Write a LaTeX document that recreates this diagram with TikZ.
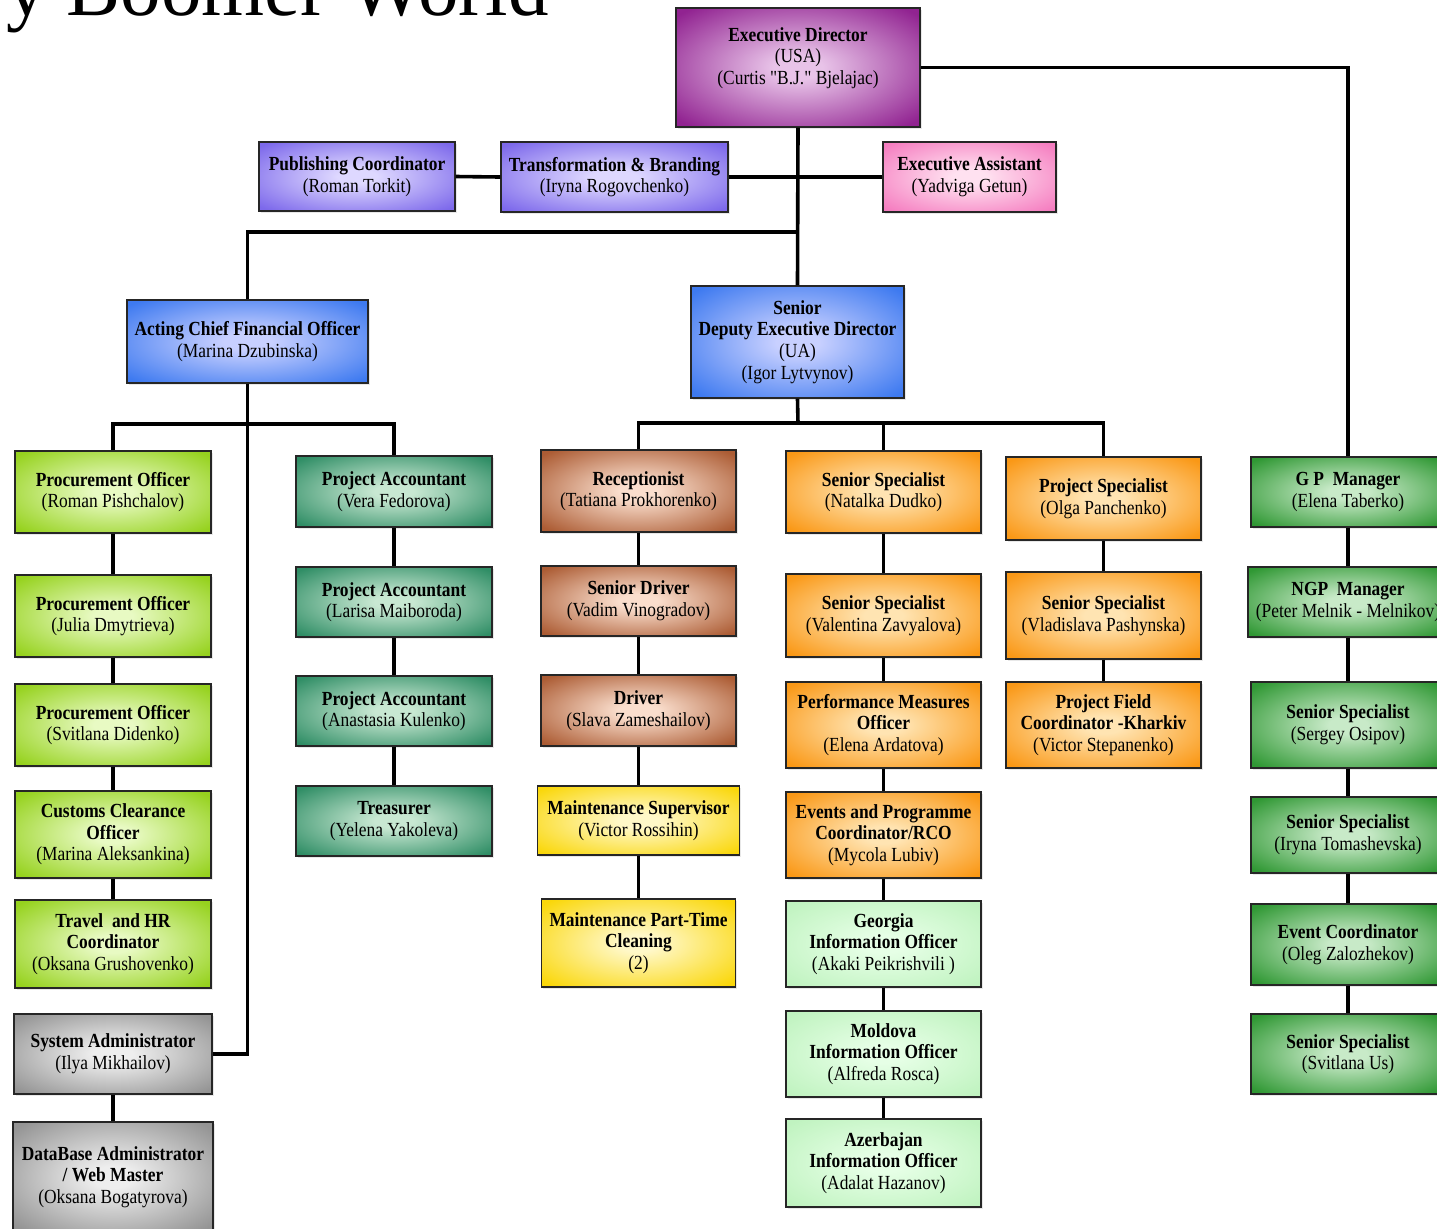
\documentclass[tikz,border=0pt]{standalone}
\usepackage{fontspec}
\setmainfont{Liberation Serif}[FakeStretch=0.87, Ligatures=TeXOff]
\newfontfamily\titlefont{Liberation Serif}
\usetikzlibrary{shadows}
\definecolor{gin}{RGB}{255,255,255}
\definecolor{gout}{RGB}{128,128,128}
\pgfdeclareradialshading[gin,gout]{glow}{\pgfpoint{0bp}{0bp}}{color(0bp)=(gin); color(5bp)=(gin); color(33bp)=(gout); color(50bp)=(gout)}
\definecolor{purpO}{RGB}{145,35,145}\definecolor{purpI}{RGB}{232,195,232}
\definecolor{periO}{RGB}{125,105,235}\definecolor{periI}{RGB}{222,216,255}
\definecolor{pinkO}{RGB}{245,125,192}\definecolor{pinkI}{RGB}{255,225,240}
\definecolor{blueO}{RGB}{62,122,240}\definecolor{blueI}{RGB}{200,208,255}
\definecolor{limeO}{RGB}{150,210,30}\definecolor{limeI}{RGB}{232,250,195}
\definecolor{tealO}{RGB}{48,142,102}\definecolor{tealI}{RGB}{200,232,210}
\definecolor{brownO}{RGB}{172,92,52}\definecolor{brownI}{RGB}{250,222,205}
\definecolor{yellO}{RGB}{250,215,10}\definecolor{yellI}{RGB}{255,248,200}
\definecolor{orngO}{RGB}{250,152,22}\definecolor{orngI}{RGB}{255,228,178}
\definecolor{mintO}{RGB}{192,243,192}\definecolor{mintI}{RGB}{230,255,230}
\definecolor{grayO}{RGB}{148,148,148}\definecolor{grayI}{RGB}{238,238,238}
\definecolor{grnO}{RGB}{48,152,52}\definecolor{grnI}{RGB}{200,234,200}
\tikzset{
  glowcols/.code 2 args={\colorlet{gin}{#1}\colorlet{gout}{#2}},
  sz/.style 2 args={minimum width=#1*0.5pt, minimum height=#2*0.5pt},
  box/.style={draw=black!85, line width=0.7pt, shading=glow, inner sep=0pt,
    align=center, font=\fontsize{10}{10.8}\selectfont,
    drop shadow={shadow xshift=0.8pt, shadow yshift=-0.8pt, opacity=0.18}},
  purp/.style={box, glowcols={purpI}{purpO}},
  peri/.style={box, glowcols={periI}{periO}},
  pinkb/.style={box, glowcols={pinkI}{pinkO}},
  blueb/.style={box, glowcols={blueI}{blueO}},
  lime/.style={box, glowcols={limeI}{limeO}},
  teal/.style={box, glowcols={tealI}{tealO}},
  brown/.style={box, glowcols={brownI}{brownO}},
  yell/.style={box, glowcols={yellI}{yellO}},
  orng/.style={box, glowcols={orngI}{orngO}},
  mint/.style={box, glowcols={mintI}{mintO}},
  grayb/.style={box, glowcols={grayI}{grayO}},
  grn/.style={box, glowcols={grnI}{grnO}},
  link/.style={line width=1.8pt, black}
}
\begin{document}
\begin{tikzpicture}[x=0.5pt,y=-0.5pt]
\useasboundingbox (0,0) rectangle (1437,1228);
\clip (0,0) rectangle (1437,1228);
\fill[white] (0,0) rectangle (1437,1228);
\node[anchor=base east, inner sep=0pt, font=\titlefont\fontsize{40.5}{42}\selectfont] (title) at (549,15) {y Boomer World};

% top level
\node[purp, sz={244}{119}] (ed) at (798,67.5) {\textbf{Executive Director}\\(USA)\\(Curtis "B.J." Bjelajac)\rule[-11.5pt]{0pt}{0pt}};
\node[peri, sz={196}{69}] (pub) at (357,176.5) {\textbf{Publishing Coordinator}\\(Roman Torkit)};
\node[peri, sz={227}{70}] (tb) at (614.5,177) {\textbf{Transformation \& Branding}\\(Iryna Rogovchenko)};
\node[pinkb, sz={173}{70}] (ea) at (969.5,177) {\textbf{Executive Assistant}\\(Yadviga Getun)};
\node[blueb, sz={241}{83}] (cfo) at (247.5,341.5) {\textbf{Acting Chief Financial Officer}\\(Marina Dzubinska)};
\node[blueb, sz={213}{112}] (sded) at (797.5,342) {\textbf{Senior}\\\textbf{Deputy Executive Director}\\(UA)\\(Igor Lytvynov)};

% left column
\node[lime, sz={196}{82}] (pr1) at (113,492) {\textbf{Procurement Officer}\\(Roman Pishchalov)};
\node[lime, sz={196}{82}] (pr2) at (113,616) {\textbf{Procurement Officer}\\(Julia Dmytrieva)};
\node[lime, sz={196}{82}] (pr3) at (113,725) {\textbf{Procurement Officer}\\(Svitlana Didenko)};
\node[lime, sz={196}{87}] (cc) at (113,834.5) {\textbf{Customs Clearance}\\\textbf{Officer}\\(Marina Aleksankina)};
\node[lime, sz={196}{88}] (th) at (113,944) {\textbf{Travel\ \ and HR}\\\textbf{Coordinator}\\(Oksana Grushovenko)};
\node[grayb, sz={198}{80}] (sa) at (113,1054) {\textbf{System Administrator}\\(Ilya Mikhailov)};
\node[grayb, sz={200}{110}] (db) at (113,1177) {\textbf{DataBase Administrator}\\\textbf{/ Web Master}\\(Oksana Bogatyrova)};

% accountants
\node[teal, sz={196}{71}] (pa1) at (394,491.5) {\textbf{Project Accountant}\\(Vera Fedorova)};
\node[teal, sz={196}{70}] (pa2) at (394,602) {\textbf{Project Accountant}\\(Larisa Maiboroda)};
\node[teal, sz={196}{70}] (pa3) at (394,711) {\textbf{Project Accountant}\\(Anastasia Kulenko)};
\node[teal, sz={196}{70}] (tr) at (394,821) {\textbf{Treasurer}\\(Yelena Yakoleva)};

% reception column
\node[brown, sz={195}{82}] (rec) at (638.5,491) {\textbf{Receptionist}\\(Tatiana Prokhorenko)};
\node[brown, sz={195}{70}] (sd) at (638.5,601) {\textbf{Senior Driver}\\(Vadim Vinogradov)};
\node[brown, sz={195}{71}] (dr) at (638.5,710.5) {\textbf{Driver}\\(Slava Zameshailov)};
\node[yell, sz={202}{69}] (ms) at (638.5,820.5) {\textbf{Maintenance Supervisor}\\(Victor Rossihin)};
\node[yell, sz={194}{88}] (mp) at (638.5,943) {\textbf{Maintenance Part-Time}\\\textbf{Cleaning}\\(2)};

% specialists column
\node[orng, sz={195}{82}] (ss1) at (883.5,492) {\textbf{Senior Specialist}\\(Natalka Dudko)};
\node[orng, sz={195}{83}] (ss2) at (883.5,615.5) {\textbf{Senior Specialist}\\(Valentina Zavyalova)};
\node[orng, sz={195}{86}] (pm) at (883.5,725) {\textbf{Performance Measures}\\\textbf{Officer}\\(Elena Ardatova)};
\node[orng, sz={195}{86}] (ev) at (883.5,835) {\textbf{Events and Programme}\\\textbf{Coordinator/RCO}\\(Mycola Lubiv)};
\node[mint, sz={195}{86}] (geo) at (883.5,944) {\textbf{Georgia}\\\textbf{Information Officer}\\(Akaki Peikrishvili )};
\node[mint, sz={195}{86}] (mol) at (883.5,1054) {\textbf{Moldova}\\\textbf{Information Officer}\\(Alfreda Rosca)};
\node[mint, sz={195}{88}] (az) at (883.5,1163) {\textbf{Azerbajan}\\\textbf{Information Officer}\\(Adalat Hazanov)};

% project specialist column
\node[orng, sz={195}{83}] (ps) at (1103.5,498.5) {\textbf{Project Specialist}\\(Olga Panchenko)};
\node[orng, sz={195}{87}] (ss3) at (1103.5,615.5) {\textbf{Senior Specialist}\\(Vladislava Pashynska)};
\node[orng, sz={195}{86}] (pf) at (1103.5,725) {\textbf{Project Field}\\\textbf{Coordinator -Kharkiv}\\(Victor Stepanenko)};

% right column
\node[grn, sz={194}{70}] (gp) at (1348,492) {\textbf{G P\ \ Manager}\\(Elena Taberko)};
\node[grn, sz={200}{70}] (ngp) at (1348,602) {\textbf{NGP\ \ Manager}\\(Peter Melnik - Melnikov)};
\node[grn, sz={194}{86}] (ss4) at (1348,725) {\textbf{Senior Specialist}\\(Sergey Osipov)};
\node[grn, sz={194}{76}] (ss5) at (1348,835) {\textbf{Senior Specialist}\\(Iryna Tomashevska)};
\node[grn, sz={194}{81}] (evc) at (1348,944.5) {\textbf{Event Coordinator}\\(Oleg Zalozhekov)};
\node[grn, sz={194}{80}] (ss6) at (1348,1054) {\textbf{Senior Specialist}\\(Svitlana Us)};

% junction coordinates
\coordinate (j1) at (798,232);
\coordinate (j2) at (247.5,424);
\coordinate (j3) at (798,423);

% connectors
\draw[link] (ed.south) -- (sded.north);
\draw[link] (pub.east) -- (tb.west);
\draw[link] (tb.east) -- (ea.west);
\draw[link] (cfo.north) |- (j1);
\draw[link] (ed.east) -| (gp.north);
\draw[link] (cfo.south) |- (sa.east);
\draw[link] (pr1.north) |- (j2) -| (pa1.north);
\draw[link] (sded.south) -- (j3);
\draw[link] (rec.north) |- (j3) -| (ps.north);
\draw[link] (ss1.north) -- (ss1.north |- j3);

\draw[link] (pr1.south) -- (pr2.north);
\draw[link] (pr2.south) -- (pr3.north);
\draw[link] (pr3.south) -- (cc.north);
\draw[link] (cc.south) -- (th.north);
\draw[link] (sa.south) -- (db.north);

\draw[link] (pa1.south) -- (pa2.north);
\draw[link] (pa2.south) -- (pa3.north);
\draw[link] (pa3.south) -- (tr.north);

\draw[link] (rec.south) -- (sd.north);
\draw[link] (sd.south) -- (dr.north);
\draw[link] (dr.south) -- (ms.north);
\draw[link] (ms.south) -- (mp.north);

\draw[link] (ss1.south) -- (ss2.north);
\draw[link] (ss2.south) -- (pm.north);
\draw[link] (pm.south) -- (ev.north);
\draw[link] (ev.south) -- (geo.north);
\draw[link] (geo.south) -- (mol.north);
\draw[link] (mol.south) -- (az.north);

\draw[link] (ps.south) -- (ss3.north);
\draw[link] (ss3.south) -- (pf.north);

\draw[link] (gp.south) -- (ngp.north);
\draw[link] (ngp.south) -- (ss4.north);
\draw[link] (ss4.south) -- (ss5.north);
\draw[link] (ss5.south) -- (evc.north);
\draw[link] (evc.south) -- (ss6.north);
\end{tikzpicture}
\end{document}
